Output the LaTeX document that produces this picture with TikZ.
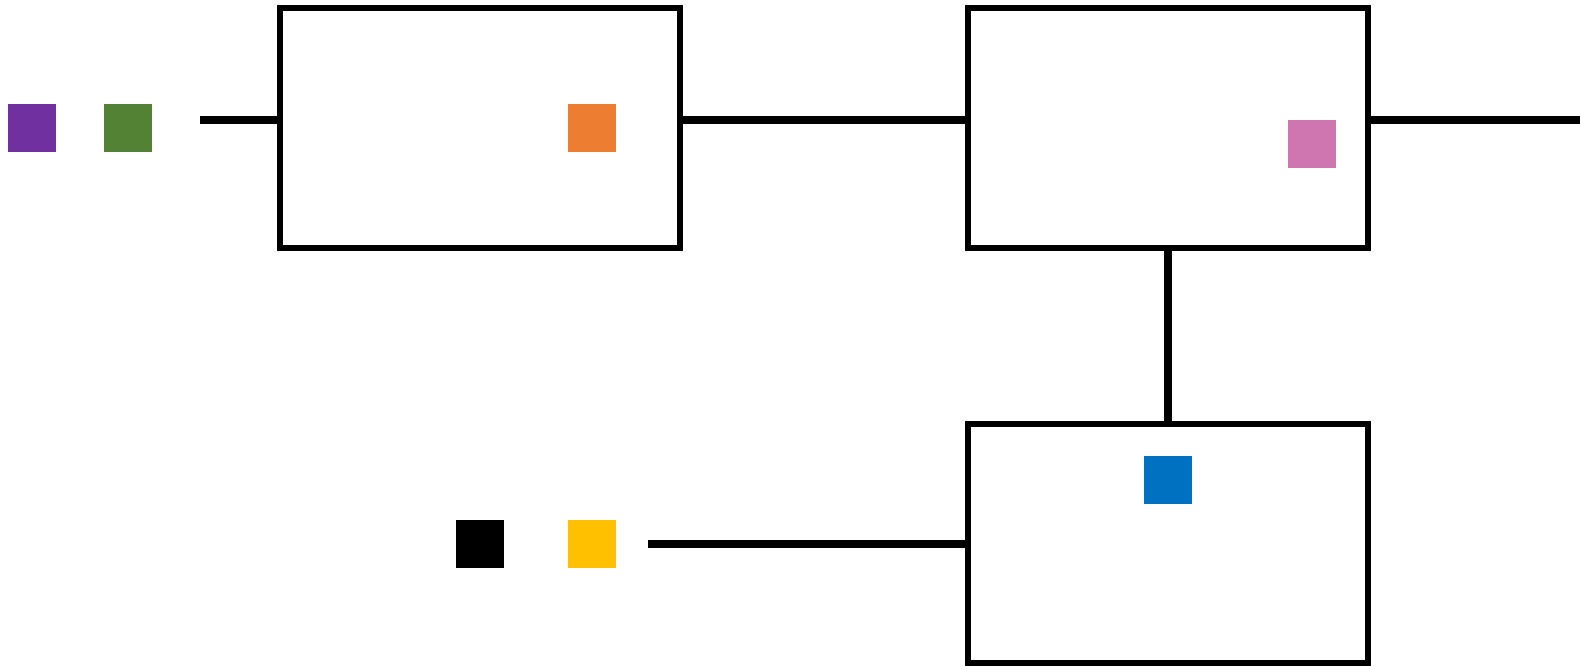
\documentclass[tikz,border=0pt]{standalone}
\definecolor{cpurple}{HTML}{7030A0}
\definecolor{cgreen}{HTML}{548235}
\definecolor{corange}{HTML}{ED7D31}
\definecolor{cpink}{HTML}{CF75AF}
\definecolor{cblue}{HTML}{0070C0}
\definecolor{cyellow}{HTML}{FFC000}
\begin{document}
\begin{tikzpicture}[x=1pt,y=-1pt,
  blockbox/.style={draw=black,line width=6pt,minimum width=400pt,minimum height=240pt,inner sep=0pt,outer sep=0pt,anchor=north west},
  chip/.style={inner sep=0pt,outer sep=0pt,minimum size=48pt,anchor=north west},
  wire/.style={line width=8pt,black}]
\useasboundingbox (0,0) rectangle (1580,666);
\node[blockbox] (b1) at (280,8) {};
\node[blockbox] (b2) at (968,8) {};
\node[blockbox,minimum height=239pt] (b3) at (968,424) {};
\node[chip,fill=cpurple] (sq1) at (8,104) {};
\node[chip,fill=cgreen] (sq2) at (104,104) {};
\node[chip,fill=corange] (sq3) at (568,104) {};
\node[chip,fill=cpink] (sq4) at (1288,120) {};
\node[chip,fill=cblue] (sq5) at (1144,456) {};
\node[chip,fill=black] (sq6) at (456,520) {};
\node[chip,fill=cyellow] (sq7) at (568,520) {};
\coordinate (c1) at (200,120);
\coordinate (c2) at (1580,120);
\coordinate (c3) at (648,544);
\draw[wire] (c1) -- (c1 -| b1.west);
\draw[wire] (b1.east |- c1) -- (b2.west |- c1);
\draw[wire] (b2.east |- c2) -- (c2);
\draw[wire] (b2.south) -- (b3.north);
\draw[wire] (c3) -- (c3 -| b3.west);
\end{tikzpicture}
\end{document}
